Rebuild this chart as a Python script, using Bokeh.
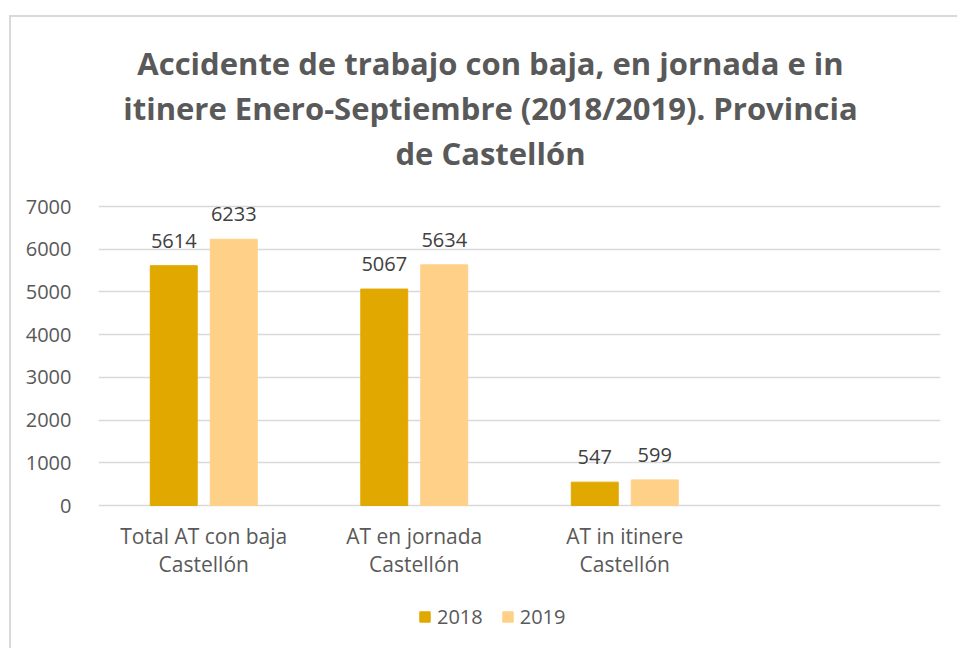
from bokeh.plotting import figure
from bokeh.models import ColumnDataSource, LabelSet, Label, Legend, LegendItem
from bokeh.transform import dodge
from bokeh.core.properties import value
from bokeh.embed import file_html
from bokeh.resources import INLINE

categories = ["Total AT con baja\nCastellón", "AT en jornada\nCastellón", "AT in itinere\nCastellón", " "]
values_2018 = [5614, 5067, 547, None]
values_2019 = [6233, 5634, 599, None]
series_names = ["2018", "2019"]
colors = ["#E1A900", "#FFD088"]
y_ticks = [0, 1000, 2000, 3000, 4000, 5000, 6000, 7000]
title_lines = ["Accidente de trabajo con baja, en jornada e in",
               "itinere Enero-Septiembre (2018/2019). Provincia",
               "de Castellón"]

FONT = "Open Sans"
TXT = "#595959"
n = 3

src = ColumnDataSource(dict(
    cat=categories[:n],
    v18=values_2018[:n],
    v19=values_2019[:n],
    l18=[str(v) for v in values_2018[:n]],
    l19=[str(v) for v in values_2019[:n]],
))
cat_src = ColumnDataSource(dict(
    cat=categories[:n],
    base=[0] * n,
    line1=[c.split("\n")[0] for c in categories[:n]],
    line2=[c.split("\n")[1] for c in categories[:n]],
))

# layout in pixels: plot frame spans the full page height; the value axis
# runs from y=505 px (0) to y=206 px (top tick); the rest holds texts
H = 648
PX_TOP, PX_ZERO = 206, 505
ymax_tick = y_ticks[-1]
per_px = ymax_tick / (PX_ZERO - PX_TOP)
y_hi = ymax_tick + PX_TOP * per_px
y_lo = -(H - PX_ZERO) * per_px

p = figure(x_range=categories, y_range=(y_lo, y_hi), width=957, height=H,
           output_backend="svg", toolbar_location=None, title=None,
           min_border_left=98, min_border_right=17, min_border_top=0,
           min_border_bottom=0, border_fill_color=None, background_fill_color=None)
p.styles = {"background": "linear-gradient(#d9d9d9,#d9d9d9) 9px 15px / 2px 100% no-repeat, "
                          "linear-gradient(#d9d9d9,#d9d9d9) 9px 15px / 100% 2px no-repeat, white"}

FRAME_LEFT = 98
for line, py in zip(title_lines, (62, 107, 152)):
    p.add_layout(Label(x=490 - FRAME_LEFT, y=H - py, x_units="screen", y_units="screen",
                       text=line, text_align="center", text_baseline="middle",
                       text_font=FONT, text_font_size="31px", text_font_style="bold",
                       text_color=TXT))

r18 = p.vbar(x=dodge("cat", -0.1425, range=p.x_range), top="v18", width=0.223,
             source=src, color=colors[0])
r19 = p.vbar(x=dodge("cat", 0.1425, range=p.x_range), top="v19", width=0.223,
             source=src, color=colors[1])

for key, off in (("18", -0.1425), ("19", 0.1425)):
    lab = LabelSet(x=dodge("cat", off, range=p.x_range), y="v" + key, text="l" + key,
                   source=src, text_align="center", text_baseline="alphabetic",
                   y_offset=18, text_font=value(FONT), text_font_size=value("20px"),
                   text_color="#404040")
    p.add_layout(lab)

for col, yoff in (("line1", -30), ("line2", -58)):
    p.add_layout(LabelSet(x="cat", y="base", text=col, source=cat_src,
                          text_align="center", text_baseline="middle", y_offset=yoff,
                          text_font=value(FONT), text_font_size=value("21px"),
                          text_color=TXT))

p.xaxis.visible = False
p.yaxis.ticker = y_ticks
p.yaxis.major_label_text_font = FONT
p.yaxis.major_label_text_color = TXT
p.yaxis.major_label_text_font_size = "20px"
p.yaxis.major_tick_line_color = None
p.yaxis.minor_tick_line_color = None
p.yaxis.axis_line_color = None
p.yaxis.major_label_standoff = 21

p.xgrid.grid_line_color = None
p.ygrid.ticker = y_ticks
p.ygrid.grid_line_color = "#d9d9d9"
p.ygrid.grid_line_width = 1.5
p.outline_line_color = None

legend = Legend(items=[LegendItem(label=series_names[0], renderers=[r18]),
                       LegendItem(label=series_names[1], renderers=[r19])],
                orientation="horizontal", location=(320, 18),
                label_text_font=FONT, label_text_font_size="20px", label_text_color=TXT,
                label_height=20, glyph_width=13, glyph_height=13, label_standoff=6,
                spacing=18, border_line_color=None, background_fill_alpha=0,
                margin=0, padding=0)
p.add_layout(legend, "center")

open("out.html", "w").write(file_html(p, INLINE))
